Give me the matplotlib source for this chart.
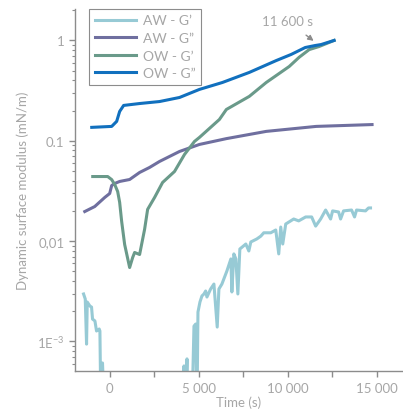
import numpy as np
import matplotlib.pyplot as plt
from matplotlib.ticker import FixedLocator, LogLocator, NullFormatter

plt.rcParams['font.family'] = ['Lato', 'DejaVu Sans']
plt.rcParams['mathtext.default'] = 'regular'

# --- data (time in s, modulus in mN/m) ---
# AW - G' (two segments, drops below the axis are off-scale points)
aw_gp_t = [-1467, -1372, -1299, -1260, -1109, -1019, -963, -829, -739, -588, -549, -493, -403, -308,
           np.nan,
           4116, 4172, 4228, 4340, 4396, 4620, 4732, 4827, 4900, 4956, 5068, 5180, 5292, 5387, 5460,
           5667, 5852, 6037, 6132, 6300, 6580, 6804, 6860, 6972, 7084, 7196, 7308, 7644, 7812, 7924,
           8260, 8484, 8652, 9044, 9324, 9492, 9604, 9716, 9884, 10332, 10612, 11004, 11340, 11564,
           11844, 12124, 12404, 12516, 12852, 12964, 13132, 13580, 13748, 13860, 14364, 14532, 14644]
aw_gp = [0.00297, 0.00265, 0.00094, 0.00247, 0.00225, 0.0022, 0.00167, 0.0016, 0.00127, 0.00133,
         0.00127, 0.0002, 0.00061, 0.0002,
         np.nan,
         0.0002, 0.00057, 0.0002, 0.00067, 0.0002, 0.0002, 0.00142, 0.00149, 0.0002, 0.00196,
         0.00247, 0.00284, 0.00297, 0.00318, 0.00277, 0.00333, 0.00373, 0.00139, 0.00333, 0.00373,
         0.00503, 0.00664, 0.00311, 0.00745, 0.00664, 0.00297, 0.00834, 0.00935, 0.00797, 0.0098,
         0.0105, 0.0112, 0.0121, 0.0121, 0.0129, 0.00745, 0.0138, 0.00935, 0.0148, 0.0166, 0.0159,
         0.0174, 0.0174, 0.0141, 0.0166, 0.0204, 0.0166, 0.02, 0.0195, 0.0166, 0.02, 0.0204, 0.0174,
         0.0204, 0.02, 0.0214, 0.0214]

# AW - G''
aw_gpp_t = [-1400, -840, -280, 0, 112, 280, 560, 1120, 1680, 2240, 2800, 3920, 5040, 6550, 8790,
            11590, 14730]
aw_gpp = [0.0197, 0.0221, 0.0272, 0.0298, 0.0358, 0.0375, 0.0393, 0.0411, 0.0483, 0.0542, 0.0622,
          0.0782, 0.0919, 0.105, 0.124, 0.139, 0.145]

# OW - G'
ow_gp_t = [-952, -112, 112, 280, 448, 560, 672, 840, 1120, 1290, 1400, 1680, 1960, 2130, 2520, 2970,
           3640, 4200, 4760, 5040, 6160, 6550, 7840, 8790, 10080, 10640, 11200, 11760, 12600]
ow_gp = [0.044, 0.044, 0.041, 0.0367, 0.0312, 0.0243, 0.0157, 0.00925, 0.00545, 0.00686, 0.0077,
         0.00735, 0.0131, 0.0207, 0.0272, 0.0384, 0.0494, 0.073, 0.0984, 0.108, 0.163, 0.205, 0.277,
         0.381, 0.55, 0.68, 0.81, 0.87, 1.0]

# OW - G''
ow_gpp_t = [-1008, 112, 392, 560, 784, 1680, 2800, 3920, 5040, 6330, 7840, 9350, 10190, 10980, 11540,
            11870, 12600]
ow_gpp = [0.136, 0.139, 0.156, 0.196, 0.225, 0.235, 0.246, 0.27, 0.325, 0.381, 0.48, 0.63, 0.725,
          0.85, 0.89, 0.91, 1.0]

y_ticks = [1e-3, 1e-2, 1e-1, 1]
y_tick_labels = [r'1E$^{-3}$', '0,01', '0.1', '1']
x_ticks = [0, 5000, 10000, 15000]
x_tick_labels = ['0', '5 000', '10 000', '15 000']

grey = '#a6a6a6'

fig = plt.figure(figsize=(4.03, 4.14), dpi=100)
ax = fig.add_axes([0.186, 0.101, 0.811, 0.875])

ax.plot(aw_gp_t, aw_gp, color='#97cad5', lw=2.2, label="AW - G\u2019")
ax.plot(aw_gpp_t, aw_gpp, color='#6f6f9f', lw=2.2, label="AW - G\u201d")
ax.plot(ow_gp_t, ow_gp, color='#6a9a8a', lw=2.2, label="OW - G\u2019")
ax.plot(ow_gpp_t, ow_gpp, color='#1170be', lw=2.2, label="OW - G\u201d")

ax.set_yscale('log')
ax.set_ylim(5.05e-4, 2.06)
ax.set_xlim(-1950, 16400)

ax.set_yticks(y_ticks)
ax.set_yticklabels(y_tick_labels)
ax.yaxis.set_minor_locator(LogLocator(base=10, subs=np.arange(2, 10)))
ax.yaxis.set_minor_formatter(NullFormatter())
ax.set_xticks(x_ticks)
ax.set_xticklabels(x_tick_labels)
ax.xaxis.set_minor_locator(FixedLocator([-2500, 2500, 7500, 12500]))

for side in ['top', 'right']:
    ax.spines[side].set_visible(False)
for side in ['left', 'bottom']:
    ax.spines[side].set_color('#8c8c8c')
    ax.spines[side].set_linewidth(1.0)

ax.tick_params(axis='both', which='major', colors='#8c8c8c', labelcolor=grey, labelsize=9.5,
               length=4, width=1)
ax.tick_params(axis='y', which='minor', colors='#8c8c8c', length=2.5, width=0.8)
ax.tick_params(axis='x', which='minor', colors='#8c8c8c', length=4, width=1)

ax.set_xlabel('Time (s)', color=grey, fontsize=9.5, labelpad=1)
ax.set_ylabel('Dynamic surface modulus (mN/m)', color=grey, fontsize=9.5, labelpad=6)

ax.annotate('11 600 s', xy=(11450, 0.99), xytext=(10000, 1.55), ha='center', va='center',
            color=grey, fontsize=9.5,
            arrowprops=dict(arrowstyle='-|>', color='#8c8c8c', lw=1, shrinkA=6, shrinkB=0,
                            mutation_scale=8))

leg = ax.legend(loc='upper left', bbox_to_anchor=(0.043, 1.0), fontsize=10, handlelength=3.0,
                labelcolor=grey, fancybox=False, framealpha=1, borderpad=0.4, labelspacing=0.4,
                handletextpad=0.5, borderaxespad=0)
leg.get_frame().set_edgecolor('#8c8c8c')
leg.get_frame().set_linewidth(0.8)

fig.savefig('out.png', dpi=100)
